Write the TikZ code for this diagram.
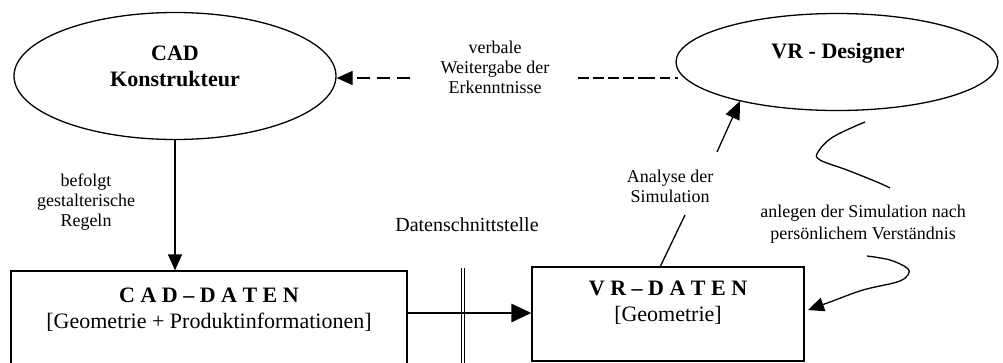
\documentclass[tikz,border=0pt]{standalone}
\usepackage{fontspec}
\setmainfont{Liberation Serif}
\usetikzlibrary{arrows.meta,shapes.geometric,calc}
\begin{document}
\begin{tikzpicture}[x=1pt,y=-1pt,
  ell/.style={draw,ellipse,line width=1.3pt,inner sep=0pt},
  databox/.style={draw,line width=1.3pt,inner sep=0pt},
  lbl/.style={align=center,font=\fontsize{18}{20}\selectfont,inner sep=0pt},
  ttl/.style={align=center,font=\fontsize{22}{26}\selectfont\bfseries,inner sep=0pt},
  boxtxt/.style={align=center,font=\fontsize{22}{26}\selectfont,inner sep=0pt},
  tip/.style={-{Triangle[length=16pt,width=14pt]}},
  bigtip/.style={-{Triangle[length=20pt,width=18pt]}},
  conn/.style={line width=1.3pt}
]
\useasboundingbox (0,0) rectangle (1003,362);

% ellipses
\node[ell,minimum width=322pt,minimum height=127pt] (cadk) at (175,76) {};
\node[ell,minimum width=322pt,minimum height=97pt] (vrd) at (837,62) {};
\node[ttl] (cadkt) at (175,66) {CAD\\Konstrukteur};
\node[ttl] (vrdt) at (838,53) {VR - Designer};

% boxes
\node[databox,minimum width=396pt,minimum height=100pt] (cadb) at (209,321) {};
\node[databox,minimum width=272pt,minimum height=94pt] (vrb) at (668,314) {};
\node[boxtxt] (cadbt) at (209,310) {\textbf{C A D – D A T E N}\\{[}Geometrie + Produktinformationen{]}};
\node[boxtxt] (vrbt) at (668,303) {\textbf{V R – D A T E N}\\{[}Geometrie{]}};

% labels
\node[lbl] (verb) at (495,67) {verbale\\Weitergabe der\\Erkenntnisse};
\node[lbl] (befo) at (86,202) {befolgt\\gestalterische\\Regeln};
\node[lbl] (anal) at (670,186) {Analyse der\\Simulation};
\node[lbl,font=\fontsize{18}{22}\selectfont] (anle) at (863,224) {anlegen der Simulation nach\\persönlichem Verständnis};
\node[lbl,font=\fontsize{20}{22}\selectfont] (dsch) at (467,225) {Datenschnittstelle};

% befolgt arrow
\draw[conn,tip] (cadk.south) -- (cadk.south |- cadb.north);

% dashed verbal connector
\coordinate (d1) at (410,78);
\coordinate (d2) at (578,78);
\coordinate (d3) at (645,78);
\coordinate (d4) at (678,78);
\draw[conn,dash pattern=on 13pt off 7pt,tip] (d1) -- (cadk.east |- d1);
\draw[line width=2.4pt,dash pattern=on 11pt off 4pt] (d2) -- (d3);
\draw[conn,dash pattern=on 10pt off 5pt] (d3) -- (d4);

% Analyse der Simulation
\coordinate (a1) at (660,267);
\coordinate (a2) at (685,215);
\coordinate (a3) at (717,152);
\coordinate (a4) at (740,101);
\draw[conn] (a1) -- (a2);
\draw[conn,-{Triangle[length=18pt,width=15pt]}] (a3) -- (a4);

% wavy connector
\draw[conn] plot[smooth,tension=0.6] coordinates {(865,122) (833,137) (818,152) (820,160) (847,170) (877,182) (890,188)};
\draw[conn,tip] plot[smooth,tension=0.6] coordinates {(867,256) (890,260) (907,268) (908,275) (897,282) (863,290) (830,302) (808,310)};

% data interface
\coordinate (s1) at (463,268);
\coordinate (s2) at (463,366);
\draw[line width=0.9pt,double,double distance=2.6pt] (s1) -- (s2);
\coordinate (hy) at (470,313);
\draw[line width=2.8pt,bigtip] (cadb.east |- hy) -- (vrb.west |- hy);
\end{tikzpicture}
\end{document}
